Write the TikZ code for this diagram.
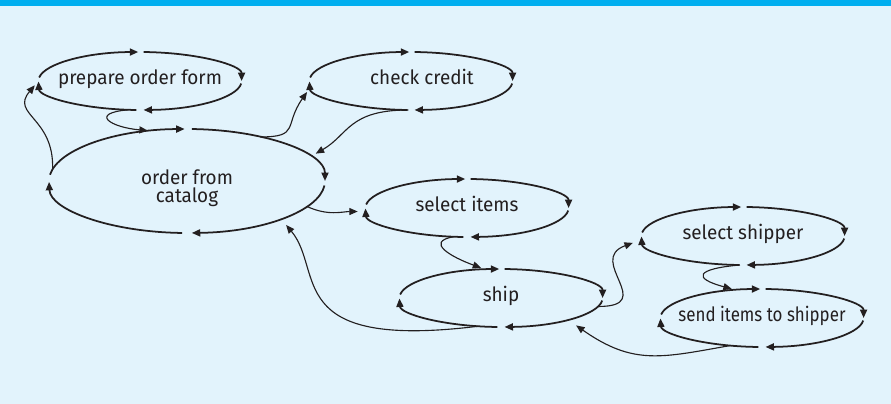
\documentclass[tikz,border=0pt]{standalone}
\usepackage{fontspec}
\newfontfamily\taskfont{Fira Sans}[FakeStretch=0.96]
\newfontfamily\narrowfont{Fira Sans}[FakeStretch=0.86]
\usetikzlibrary{arrows.meta,positioning,shapes.geometric}
\definecolor{ink}{HTML}{231F20}
\definecolor{paper}{HTML}{E2F3FC}
\definecolor{band}{HTML}{00AEEF}
% four arrowed arcs round a task
\newcommand{\cyclearcs}[3]{%
  \foreach \sa/\ea in {173/91,88/0,-5/-88,-92/-179}
    \draw[task arc] ([shift={(\sa:#2 and #3)}]#1.center)
      arc[start angle=\sa,end angle=\ea,x radius=#2,y radius=#3];}

\begin{document}
\begin{tikzpicture}[>={Triangle[length=6pt,width=5pt]},on grid,
    task node/.style={ellipse,minimum width=5.08cm,minimum height=1.45cm,inner sep=0pt,outer sep=0pt},
    task arc/.style={->,draw=ink,line width=1.25pt},
    every label/.style={font=\taskfont\fontsize{14}{13}\selectfont,text=ink,inner sep=0pt,align=center},
    word/.style={text height=0.75em,text depth=0.2em},
    flow/.style={->,draw=ink,line width=0.8pt}]
  \fill[paper] (0,0) rectangle (22.275,10.1);
  \fill[band] (0,9.95) rectangle (22.275,10.1);
  \useasboundingbox (0,0) rectangle (22.275,10.1);

  \node[task node,minimum width=6.9cm,minimum height=2.6cm,
        label={[yshift=-0.18cm]center:order from\\catalog}] (catalog) at (4.675,5.575) {};
  \node[task node,label={[word]center:prepare order form}] (prepare) [above left=2.5cm and 1.175cm of catalog] {};
  \node[task node,label={[word,xshift=0.275cm]center:check credit}] (credit) [right=6.775cm of prepare] {};
  \node[task node,label={[word]center:select items}] (items) [below right=0.675cm and 7cm of catalog] {};
  \node[task node,label={[word]center:ship}] (ship) [below right=2.25cm and 0.85cm of items] {};
  \node[task node,label={[word]center:select shipper}] (shipper) [above right=1.55cm and 6.05cm of ship] {};
  \node[task node,label={[word,font=\narrowfont\fontsize{14}{13}\selectfont]center:send items to shipper}] (send) [below right=2.05cm and 0.475cm of shipper] {};

  \cyclearcs{catalog}{3.45}{1.3}
  \cyclearcs{prepare}{2.54}{0.725}
  \cyclearcs{credit}{2.54}{0.725}
  \cyclearcs{items}{2.54}{0.725}
  \cyclearcs{ship}{2.54}{0.725}
  \cyclearcs{shipper}{2.54}{0.725}
  \cyclearcs{send}{2.54}{0.725}

  \path
    (prepare.-112) edge[flow,out=185,in=175,distance=1cm,shorten >=2pt] (catalog.126)
    (catalog.175) edge[flow,out=88,in=230,out distance=1.3cm,in distance=1.1cm,shorten >=4pt] (prepare.west)
    (catalog.31) edge[flow,out=0,in=235,out distance=1cm,in distance=1.2cm,shorten >=5pt] (credit.183)
    (credit.-95) edge[flow,out=180,in=30,out distance=1.5cm,in distance=1.125cm,shorten >=5pt] (catalog.11)
    (catalog.-12) edge[flow,out=-25,in=180,shorten >=6pt] (items.182)
    (items.-115) edge[flow,out=190,in=160,out distance=0.75cm,in distance=0.875cm,shorten >=3pt] (ship.119)
    (ship.-129) edge[flow,out=187,in=-50,out distance=4.95cm,in distance=1.7cm,shorten >=5.5pt] (catalog.-22)
    (ship.-5) edge[flow,out=0,in=200,out distance=1.5cm,in distance=1.5cm,shorten >=7pt] (shipper.182)
    (shipper.-96) edge[flow,out=185,in=165,distance=1.125cm,shorten >=3pt] (send.133)
    (send.-139) edge[flow,out=190,in=-35,out distance=1.75cm,in distance=2cm,shorten >=7pt] (ship.-18);
\end{tikzpicture}
\end{document}
